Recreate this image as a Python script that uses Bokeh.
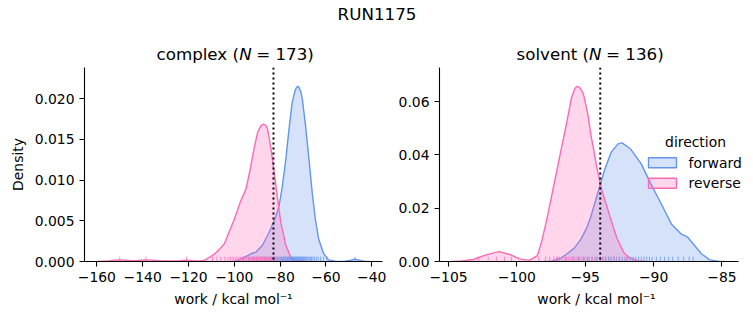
from bokeh.plotting import figure
from bokeh.models import Range1d, Span, Label, FixedTicker
from bokeh.layouts import column, row
from bokeh.embed import file_html
from bokeh.resources import INLINE

FONT = "DejaVu Sans"
BLUE = "#6495ED"
PINK = "#FF69B4"

# ---------------- data ----------------
suptitle = "RUN1175"
directions = ["forward", "reverse"]
panel_names = ["complex (", "solvent ("]
panel_counts = ["= 173)", "= 136)"]

# complex panel KDE curves
cx_fwd_x = [-100.5, -98.0, -95.7, -92.7, -90.6, -87.7, -84.8, -82.3, -80.4, -79.0, -77.5, -76.1,
            -74.7, -73.5, -72.8, -72.2, -71.6, -70.9, -70.3, -68.9, -67.4, -66.0, -64.6, -63.2,
            -61.0, -58.8, -56.0, -52.0, -49.0, -47.3, -45.5, -43.0, -41.0]
cx_fwd_y = [0.0, 0.0002, 0.0005, 0.00095, 0.00115, 0.002, 0.0036, 0.0052, 0.0069, 0.0093, 0.0126, 0.0163,
            0.0196, 0.0210, 0.0214, 0.02155, 0.0213, 0.0208, 0.0200, 0.0167, 0.0126, 0.0085, 0.0052, 0.0028,
            0.00095, 0.0002, 0.00003, 0.00002, 0.00015, 0.0003, 0.00015, 0.00002, 0.0]
cx_rev_x = [-160.0, -155.0, -152.0, -150.0, -148.0, -145.0, -142.0, -139.0, -136.0, -132.0, -128.0,
            -124.0, -121.0, -118.0, -115.0, -113.0, -111.6, -108.7, -106.5, -104.3, -102.9, -100.0,
            -97.4, -94.9, -93.0, -91.3, -89.8, -88.3, -87.2, -86.2, -85.5, -84.0, -82.6, -81.1,
            -79.7, -77.5, -75.3, -73.2, -70.0]
cx_rev_y = [0.00002, 0.00008, 0.00017, 0.0002, 0.00017, 0.0001, 0.00012, 0.0002, 0.00017, 0.00008, 0.00006,
            0.0001, 0.00017, 0.0001, 0.00008, 0.00015, 0.0004, 0.0009, 0.0015, 0.0022, 0.0032, 0.0052,
            0.0073, 0.0089, 0.0114, 0.0140, 0.0159, 0.0167, 0.0169, 0.0167, 0.0163, 0.0139, 0.0110, 0.0077,
            0.0048, 0.0020, 0.0005, 0.0001, 0.0]

# solvent panel KDE curves
sv_fwd_x = [-98.0, -97.5, -96.8, -96.3, -95.8, -95.3, -94.9, -94.6, -94.1, -93.6, -93.1, -92.6, -92.3,
            -91.7, -90.9, -90.2, -89.5, -88.7, -88.0, -87.5, -87.0, -86.5, -85.9, -85.3, -84.8]
sv_fwd_y = [0.0, 0.0001, 0.0012, 0.003, 0.005, 0.0085, 0.0125, 0.0166, 0.0254, 0.0341, 0.0410, 0.0441, 0.0445,
            0.0423, 0.0366, 0.0291, 0.0222, 0.0141, 0.0104, 0.0091, 0.0060, 0.0029, 0.0006, 0.0001, 0.0]
sv_rev_x = [-104.8, -104.0, -103.2, -102.2, -101.3, -100.5, -99.8, -99.1, -98.5, -98.2, -97.8, -97.3,
            -96.8, -96.3, -96.0, -95.75, -95.6, -95.4, -95.2, -95.1, -94.8, -94.6, -94.1, -93.8, -93.2,
            -92.7, -92.2, -91.8, -91.2, -90.6]
sv_rev_y = [0.0, 0.0002, 0.00075, 0.0026, 0.0037, 0.0026, 0.001, 0.0004, 0.0022, 0.0072, 0.016, 0.0285,
            0.041, 0.0535, 0.0615, 0.065, 0.0657, 0.0652, 0.0635, 0.0622, 0.055, 0.048, 0.034, 0.027, 0.017,
            0.009, 0.0035, 0.0015, 0.0003, 0.0]

# rug values (individual work values)
cx_fwd_rug = [-96.1, -93.8, -91.5, -89.9, -88.2, -86.9, -85.7, -84.6, -83.8, -83.1, -82.4, -81.8, -81.1,
              -80.5, -79.9, -79.4, -78.9, -78.5, -78.0, -77.6, -77.2, -76.8, -76.4, -76.0, -75.7, -75.3,
              -75.0, -74.6, -74.3, -74.0, -73.7, -73.4, -73.1, -72.8, -72.5, -72.2, -71.9, -71.6, -71.3,
              -71.0, -70.7, -70.4, -70.1, -69.8, -69.4, -69.0, -68.6, -68.2, -67.8, -67.3, -66.8, -66.3,
              -65.7, -65.0, -64.2, -63.4, -62.3, -61.1, -59.6, -47.3]
cx_rev_rug = [-150.0, -138.6, -120.8, -109.5, -107.6, -105.9, -104.1, -102.8, -101.7, -100.6, -99.7, -98.8,
              -98.0, -97.2, -96.5, -95.8, -95.2, -94.6, -94.0, -93.5, -93.0, -92.5, -92.0, -91.6, -91.1,
              -90.7, -90.3, -89.9, -89.5, -89.1, -88.7, -88.3, -87.9, -87.5, -87.1, -86.7, -86.3, -85.9,
              -85.5, -85.0, -84.5, -84.0, -83.4, -82.8, -82.1, -81.3, -80.2, -78.6]
sv_fwd_rug = [-97.0, -96.4, -95.9, -95.5, -95.1, -94.8, -94.5, -94.2, -93.9, -93.7, -93.5, -93.3, -93.1,
              -92.9, -92.7, -92.5, -92.3, -92.1, -91.9, -91.7, -91.5, -91.3, -91.1, -90.9, -90.7, -90.5,
              -90.3, -90.1, -89.8, -89.5, -89.2, -88.9, -88.6, -88.2, -87.8, -87.4, -87.1]
sv_rev_rug = [-102.8, -102.1, -101.5, -100.9, -100.4, -98.4, -97.9, -97.6, -97.3, -97.1, -96.9, -96.7,
              -96.5, -96.35, -96.2, -96.05, -95.9, -95.75, -95.6, -95.45, -95.3, -95.15, -95.0, -94.85,
              -94.7, -94.5, -94.3, -94.1, -93.9, -93.7, -93.5, -93.2, -92.9, -92.5, -92.0]

# dotted reference lines
cx_vline = -82.9
sv_vline = -93.9

# ticks
cx_xticks = [-160, -140, -120, -100, -80, -60, -40]
cx_xlabels = ["\u2212160", "\u2212140", "\u2212120", "\u2212100", "\u221280", "\u221260", "\u221240"]
cx_yticks = [0.0, 0.005, 0.010, 0.015, 0.020]
cx_ylabels = ["0.000", "0.005", "0.010", "0.015", "0.020"]
sv_xticks = [-105, -100, -95, -90, -85]
sv_xlabels = ["\u2212105", "\u2212100", "\u221295", "\u221290", "\u221285"]
sv_yticks = [0.0, 0.02, 0.04, 0.06]
sv_ylabels = ["0.00", "0.02", "0.04", "0.06"]

xlabel = "work / kcal mol\u207b\u00b9"
ylabel = "Density"

# ---------------- layout constants ----------------
TITLE_H = 66
PANEL_H = 325 - TITLE_H
TOP_B = 1
BOT_B = 64
FRAME_H = PANEL_H - TOP_B - BOT_B   # 194


def make_panel(width, ml, mr, xr, yr, xticks, xlabs, yticks, ylabs, ylab, xbounds=None):
    p = figure(width=width, height=PANEL_H, x_range=Range1d(*xr), y_range=Range1d(*yr),
               output_backend="svg", toolbar_location=None, title=None,
               min_border_left=ml, min_border_right=mr, min_border_top=TOP_B, min_border_bottom=BOT_B)
    p.outline_line_color = None
    p.grid.visible = False
    p.background_fill_color = "white"
    p.border_fill_color = "white"
    p.xaxis.ticker = FixedTicker(ticks=xticks)
    p.xaxis.major_label_overrides = {float(t): l for t, l in zip(xticks, xlabs)}
    if xbounds is not None:
        p.xaxis.bounds = xbounds
    p.yaxis.ticker = FixedTicker(ticks=yticks)
    p.yaxis.major_label_overrides = {float(t): l for t, l in zip(yticks, ylabs)}
    for ax in (p.xaxis[0], p.yaxis[0]):
        ax.axis_line_color = "black"
        ax.axis_line_width = 1.1
        ax.major_tick_line_color = "black"
        ax.major_tick_line_width = 1.1
        ax.major_tick_out = 5
        ax.major_tick_in = 0
        ax.minor_tick_out = 0
        ax.minor_tick_in = 0
        ax.major_label_text_font = FONT
        ax.major_label_text_font_size = "13.9px"
        ax.major_label_text_color = "black"
        ax.major_label_standoff = 5
        ax.axis_label_text_font = FONT
        ax.axis_label_text_font_size = "13.9px"
        ax.axis_label_text_font_style = "normal"
        ax.axis_label_text_color = "black"
        ax.axis_label_standoff = 6
    p.xaxis.axis_label = xlabel
    if ylab:
        p.yaxis.axis_label = ylab
    return p


def draw(p, fx, fy, rx, ry, frug, rrug, vline, rug_h):
    p.varea(x=fx, y1=[0] * len(fx), y2=fy, fill_color=BLUE, fill_alpha=0.27)
    p.line(fx, fy, line_color=BLUE, line_width=1.4)
    p.varea(x=rx, y1=[0] * len(rx), y2=ry, fill_color=PINK, fill_alpha=0.27)
    p.line(rx, ry, line_color=PINK, line_width=1.4)
    p.segment(x0=frug, y0=[0] * len(frug), x1=frug, y1=[rug_h] * len(frug),
              line_color=BLUE, line_alpha=0.75, line_width=1)
    p.segment(x0=rrug, y0=[0] * len(rrug), x1=rrug, y1=[rug_h] * len(rrug),
              line_color=PINK, line_alpha=0.75, line_width=1)
    p.add_layout(Span(location=vline, dimension="height", line_color="black",
                      line_dash="2 3", line_width=2))


# ---- complex panel ----
cx_xr = (-165.4, -35.3)
cx_yr = (0.0, 0.02385)
p1 = make_panel(390, 84, 8, cx_xr, cx_yr, cx_xticks, cx_xlabels, cx_yticks, cx_ylabels, ylabel)
draw(p1, cx_fwd_x, cx_fwd_y, cx_rev_x, cx_rev_y, cx_fwd_rug, cx_rev_rug, cx_vline, 0.025 * cx_yr[1])

# ---- solvent panel (frame runs to the page edge; axis line bounded) ----
SV_PX = 13.67           # px per unit
SV_LEFT = -105.66
SV_FRAME_W = 363 - 49
sv_xr = (SV_LEFT, SV_LEFT + SV_FRAME_W / SV_PX)
sv_axis_end = -83.79
sv_yr = (0.0, 0.07275)
p2 = make_panel(363, 49, 0, sv_xr, sv_yr, sv_xticks, sv_xlabels, sv_yticks, sv_ylabels, None,
                xbounds=(SV_LEFT, sv_axis_end))
draw(p2, sv_fwd_x, sv_fwd_y, sv_rev_x, sv_rev_y, sv_fwd_rug, sv_rev_rug, sv_vline, 0.025 * sv_yr[1])


def gx2(gx):
    # global page x -> solvent data x
    return SV_LEFT + (gx - 439.0) / SV_PX


def gy2(gy):
    # global page y (top = 0) -> solvent data y; frame bottom at page y 261
    return (261.0 - gy) / FRAME_H * sv_yr[1]


leg_rows = [162.3, 182.7]
for d, col, gy in zip(directions, [BLUE, PINK], leg_rows):
    p2.quad(left=[gx2(648)], right=[gx2(676)], bottom=[gy2(gy + 5)], top=[gy2(gy - 5)],
            fill_color=col, fill_alpha=0.27, line_color=col, line_width=1.4)
    p2.add_layout(Label(x=gx2(688), y=gy2(gy), text=d, text_font=FONT, text_font_size="13.9px",
                        text_baseline="middle", text_align="left", text_color="black"))
p2.add_layout(Label(x=gx2(695), y=gy2(141), text="direction", text_font=FONT,
                    text_font_size="13.9px", text_baseline="middle", text_align="center",
                    text_color="black"))

# ---- header figure: suptitle and panel titles ----
pt = figure(width=753, height=TITLE_H, x_range=Range1d(0, 753), y_range=Range1d(0, TITLE_H),
            output_backend="svg", toolbar_location=None, min_border=0, title=None)
pt.axis.visible = False
pt.grid.visible = False
pt.outline_line_color = None
pt.add_layout(Label(x=376.5, y=TITLE_H - 13, text=suptitle, text_font=FONT, text_font_size="16.7px",
                    text_baseline="alphabetic", text_align="center", text_color="black"))

name_w = {"complex (": 82.7, "solvent (": 72.5}
N_W = 12.5
SP_W = 4.5
title_starts = [156.0, 516.0]
for name, rest, sx in zip(panel_names, panel_counts, title_starts):
    common = dict(y=TITLE_H - 53, text_font=FONT, text_font_size="16.7px",
                  text_baseline="alphabetic", text_align="left", text_color="black")
    pt.add_layout(Label(x=sx, text=name, **common))
    pt.add_layout(Label(x=sx + name_w[name], text="N", text_font_style="italic", **common))
    pt.add_layout(Label(x=sx + name_w[name] + N_W + SP_W, text=rest, **common))

layout = column(pt, row(p1, p2, spacing=0), spacing=0)
open("out.html", "w").write(file_html(layout, INLINE))
